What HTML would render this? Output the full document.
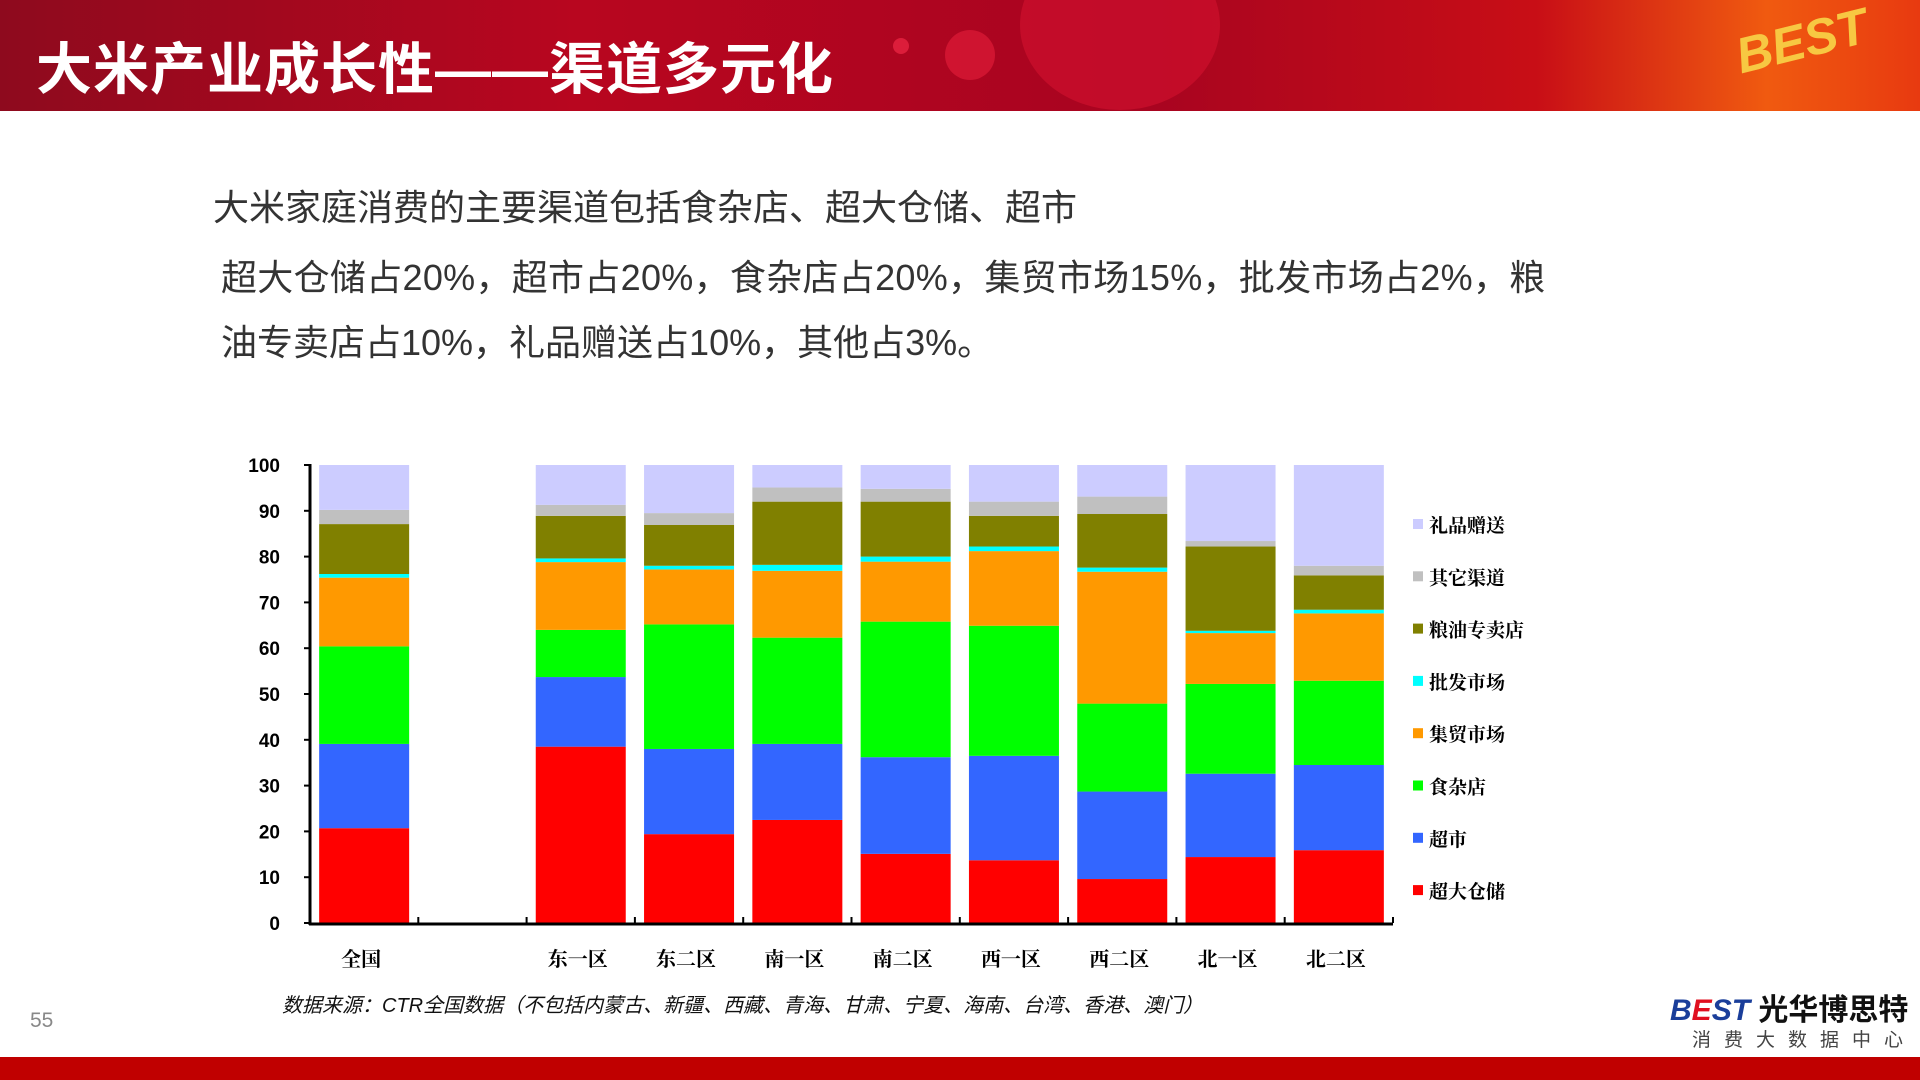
<!DOCTYPE html>
<html><head><meta charset="utf-8"><style>
body{margin:0;width:1920px;height:1080px;position:relative;background:#fff;overflow:hidden;font-family:"Liberation Sans","Noto Sans CJK SC",sans-serif}
.hdr{position:absolute;left:0;top:0;width:1920px;height:111px;background:linear-gradient(90deg,#8e0a1e 0%,#b8061f 30%,#a80420 60%,#c80e16 80%,#f05a10 92%,#e83a10 100%)}
.title{position:absolute;left:36px;top:25px;color:#fff;font-size:56px;font-weight:bold;font-family:"Liberation Sans","Noto Sans CJK SC",sans-serif;letter-spacing:1px}
.body{position:absolute;color:#333;font-size:36px;font-family:"Liberation Sans","Noto Sans CJK SC",sans-serif;white-space:nowrap}
.src{position:absolute;left:282px;top:989px;font-size:20px;font-style:italic;color:#111;font-family:"Liberation Sans","Noto Sans CJK SC",sans-serif}
</style></head><body>
<div class="hdr">
<div style="position:absolute;left:1020px;top:-60px;width:200px;height:170px;border-radius:50%;background:rgba(220,20,50,0.5)"></div>
<div style="position:absolute;left:945px;top:30px;width:50px;height:50px;border-radius:50%;background:rgba(230,30,60,0.6)"></div>
<div style="position:absolute;left:893px;top:38px;width:16px;height:16px;border-radius:50%;background:rgba(240,40,70,0.7)"></div>
<div style="position:absolute;left:1735px;top:12px;color:#f7c842;font-size:50px;font-weight:bold;font-style:italic;transform:rotate(-14deg)">BEST</div>
</div>
<div class="title">大米产业成长性——渠道多元化</div>
<div class="body" style="left:213px;top:179px">大米家庭消费的主要渠道包括食杂店、超大仓储、超市</div>
<div class="body" style="left:221px;top:249px;letter-spacing:0.3px">超大仓储占20%，超市占20%，食杂店占20%，集贸市场15%，批发市场占2%，粮</div>
<div class="body" style="left:221px;top:314px">油专卖店占10%，礼品赠送占10%，其他占3%。</div>
<svg id="chart" style="position:absolute;left:0;top:0" width="1920" height="1080"></svg>
<div class="src">数据来源：CTR全国数据（不包括内蒙古、新疆、西藏、青海、甘肃、宁夏、海南、台湾、香港、澳门）</div>
<div style="position:absolute;left:30px;top:1009px;font-size:21px;color:#888">55</div>
<div style="position:absolute;left:1670px;top:985px;font-size:30px;font-weight:bold;white-space:nowrap"><span style="color:#1a3e9a;font-style:italic">B</span><span style="color:#e01020;font-style:italic">E</span><span style="color:#1a3e9a;font-style:italic">ST</span><span style="color:#111"> 光华博思特</span></div>
<div style="position:absolute;left:1692px;top:1025px;font-size:19px;color:#444;letter-spacing:13px;white-space:nowrap">消费大数据中心</div>
<div style="position:absolute;left:0;top:1057px;width:1920px;height:23px;background:#c00000"></div>
<script>
const categories=["全国","","东一区","东二区","南一区","南二区","西一区","西二区","北一区","北二区"];
const seriesNames=["超大仓储","超市","食杂店","集贸市场","批发市场","粮油专卖店","其它渠道","礼品赠送"];
const seriesColors=["#ff0000","#3366ff","#00ff00","#ff9900","#00ffff","#808000","#c0c0c0","#ccccff"];
const s_chaoda=[20.7,0,38.5,19.4,22.5,15.1,13.7,9.6,14.4,15.9];
const s_chaoshi=[18.4,0,15.2,18.6,16.6,21.1,22.8,19.1,18.2,18.6];
const s_shiza=[21.3,0,10.3,27.2,23.2,29.6,28.4,19.2,19.6,18.4];
const s_jimao=[15.0,0,14.8,12.0,14.6,13.1,16.3,28.8,11.1,14.7];
const s_pifa=[0.8,0,0.8,0.8,1.3,1.1,1.0,0.9,0.5,0.8];
const s_liangyou=[10.9,0,9.3,8.9,13.8,12.0,6.7,11.7,18.4,7.5];
const s_qita=[3.1,0,2.4,2.6,3.1,2.8,3.1,3.8,1.2,2.1];
const s_lipin=[9.8,0,8.7,10.5,4.9,5.2,8.0,6.9,16.6,22.0];
const yTicks=[0,10,20,30,40,50,60,70,80,90,100];
const series=[s_chaoda,s_chaoshi,s_shiza,s_jimao,s_pifa,s_liangyou,s_qita,s_lipin];
const svg=document.getElementById('chart');const NS='http://www.w3.org/2000/svg';
const X0=310,X1=1393,Y0=923,Y1=465;
const slot=(X1-X0)/categories.length;
const y=v=>Y0-(v/100)*(Y0-Y1);
const xc=i=>X0+slot*(i+0.5);
function mk(t,a){const e=document.createElementNS(NS,t);for(const k in a)e.setAttribute(k,a[k]);svg.appendChild(e);return e;}
const FF='"Liberation Serif","Noto Serif CJK SC",serif';
categories.forEach((c,i)=>{
  if(!c)return;let acc=0;
  series.forEach((s,j)=>{const v=s[i];
    const r=mk('rect',{x:xc(i)-45,y:y(acc+v),width:90,height:y(acc)-y(acc+v),fill:seriesColors[j]});
    
    
    acc+=v;});
  const t=mk('text',{x:xc(i)-3,y:966,'text-anchor':'middle','font-size':20,'font-weight':'bold','font-family':FF});
  t.textContent=c;
  
  
});
let ax=mk('line',{x1:X0,y1:Y1-1,x2:X0,y2:Y0+2,stroke:'#000','stroke-width':3});


let bx=mk('line',{x1:X0-1,y1:Y0+1,x2:X1,y2:Y0+1,stroke:'#000','stroke-width':3});


for(let i=1;i<=categories.length;i++){mk('line',{x1:X0+slot*i,y1:Y0,x2:X0+slot*i,y2:Y0-6,stroke:'#000','stroke-width':2});}
yTicks.forEach(v=>{mk('line',{x1:X0-6,y1:y(v),x2:X0,y2:y(v),stroke:'#000','stroke-width':2});
  const t=mk('text',{x:280,y:y(v)+7,'text-anchor':'end','font-size':19,'font-weight':'bold','font-family':'"Liberation Sans",sans-serif'});
  t.textContent=v;
  
  });
for(let j=0;j<8;j++){const k=7-j;const ly=525+j*52.3;
  const r=mk('rect',{x:1413,y:ly-6,width:10,height:10,fill:seriesColors[k]});
  
  
  const t=mk('text',{x:1429,y:ly+7,'font-size':19,'font-weight':'bold','font-family':FF});
  t.textContent=seriesNames[k];
  
  }
</script>
</body></html>
